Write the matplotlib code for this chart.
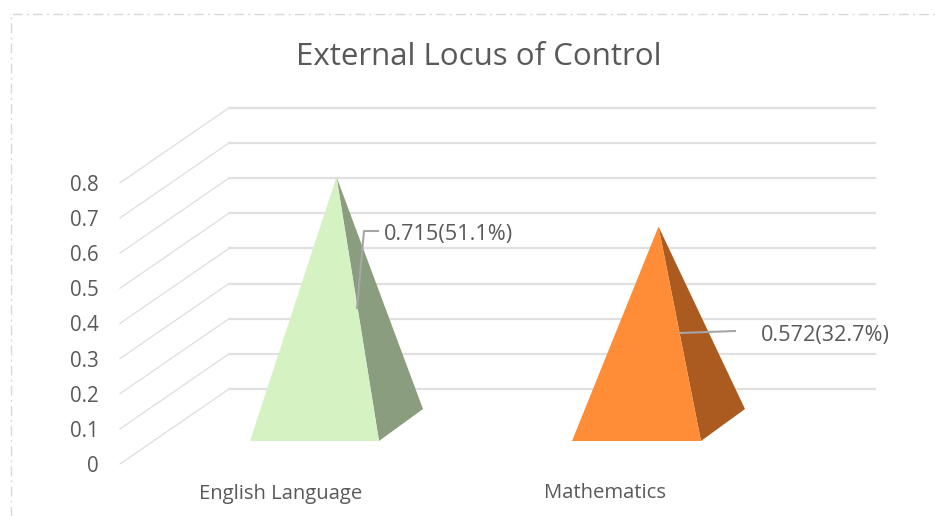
import matplotlib
matplotlib.use("Agg")
import matplotlib.pyplot as plt
from matplotlib.patches import Polygon

categories = ["English Language", "Mathematics"]
values = [0.715, 0.572]
value_labels = ["0.715(51.1%)", "0.572(32.7%)"]
y_ticks = [0, 0.1, 0.2, 0.3, 0.4, 0.5, 0.6, 0.7, 0.8]
y_tick_labels = ["0", "0.1", "0.2", "0.3", "0.4", "0.5", "0.6", "0.7", "0.8"]
front_colors = ["#D5F2C3", "#FF8C37"]
side_colors = ["#8A9E7F", "#AB5B1F"]

W, H = 935, 516
TEXT = "#595959"
FONT = "Open Sans"
plt.rcParams["font.family"] = [FONT, "DejaVu Sans"]

fig = plt.figure(figsize=(W / 100, H / 100), dpi=100, facecolor="white")
ax = fig.add_axes([0, 0, 1, 1])
ax.axis("off")

CAT_PX, VAL_PX = 322.0, 351.5
X0, Y0 = 314.5, 464.0
ax.set_xlim(-X0 / CAT_PX, (W - X0) / CAT_PX)
ax.set_ylim((Y0 - H) / VAL_PX, Y0 / VAL_PX)

def dx(px):
    return px / CAT_PX

def dv(px):
    return px / VAL_PX

px_x = lambda p: (p - X0) / CAT_PX
px_y = lambda p: (Y0 - p) / VAL_PX

frame = dict(color="#d8d8d8", lw=1.0, ls=(0, (7, 3, 1.5, 3)), zorder=1)
ax.plot([px_x(11), px_x(11), px_x(935)], [px_y(516), px_y(14), px_y(14)], **frame)

left_front, left_back, right_back = px_x(120), px_x(229), px_x(875)
for t, lab in zip(y_ticks, y_tick_labels):
    back = t + dv(75)
    ax.plot([left_front, left_back], [t, back], color="#dedede", lw=0.9, zorder=2)
    ax.plot([left_back, right_back], [back, back], color="#e0e0e0", lw=1.6, zorder=2)
    ax.text(px_x(99), t, lab, ha="right", va="center_baseline", fontsize=14.8, color=TEXT, zorder=6)

half_w = dx(64.5)
depth_x, depth_y = dx(44), dv(32)
base_v = dv(23)
height_k = 0.987
for i, (v, fc, sc) in enumerate(zip(values, front_colors, side_colors)):
    apex = (i + depth_x / 2, base_v + depth_y / 2 + v * height_k)
    fl = (i - half_w, base_v)
    fr = (i + half_w, base_v)
    br = (i + half_w + depth_x, base_v + depth_y)
    ax.add_patch(Polygon([apex, fr, br], closed=True, fc=sc, ec="none", zorder=3))
    ax.add_patch(Polygon([apex, fl, fr], closed=True, fc=fc, ec="none", zorder=4))
    ax.text(i + dx([-33.5, -32][i]), px_y(491), categories[i], ha="center", va="center_baseline",
            fontsize=14.6, color=TEXT, zorder=6)

leader = dict(color="#a6a6a6", lw=1.5, zorder=5)
ax.plot([px_x(357), px_x(364), px_x(378)], [px_y(308), px_y(231), px_y(231)], **leader)
ax.plot([px_x(680), px_x(735)], [px_y(333), px_y(331)], **leader)
ax.text(px_x(384), px_y(232), value_labels[0], ha="left", va="center_baseline", fontsize=15.6, color=TEXT, zorder=6)
ax.text(px_x(761), px_y(333), value_labels[1], ha="left", va="center_baseline", fontsize=15.6, color=TEXT, zorder=6)

ax.text(px_x(479), px_y(54), "External Locus of Control", ha="center", va="center_baseline",
        fontsize=22.5, color=TEXT, zorder=6)

fig.savefig("out.png", dpi=100)
